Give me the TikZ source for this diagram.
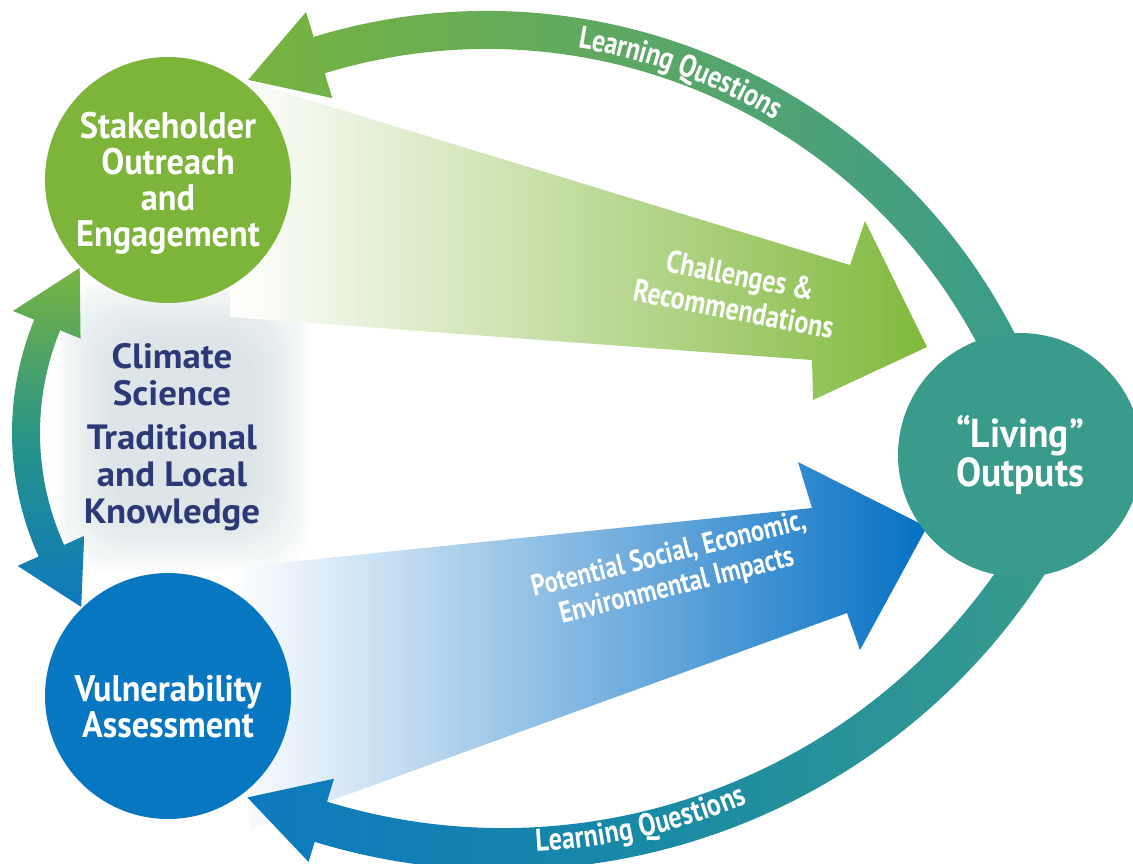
\documentclass[tikz,border=0pt]{standalone}
\usepackage{fontspec}
\setmainfont{PT Sans}
\newfontfamily\hubfamily{PT Sans}[FakeStretch=0.93]
\newfontfamily\narrowfamily{PT Sans}[FakeStretch=0.82]
\newfontfamily\widefamily{PT Sans}[FakeStretch=1.05]
\usetikzlibrary{decorations.text}
\definecolor{leafgreen}{RGB}{125,180,58}
\definecolor{seateal}{RGB}{57,155,139}
\definecolor{oceanblue}{RGB}{8,119,193}
\definecolor{inknavy}{RGB}{43,58,118}
\definecolor{fogray}{RGB}{196,211,215}
\definecolor{wedgegreen}{RGB}{128,185,60}
\definecolor{wedgeblue}{RGB}{5,112,196}
\definecolor{arcgreen}{RGB}{120,180,64}
\definecolor{arcmid}{RGB}{92,167,100}
\definecolor{arcblue}{RGB}{12,121,190}
\definecolor{arcbluemid}{RGB}{25,138,165}
\definecolor{arcleftmid}{RGB}{40,148,135}
\tikzset{
  hub/.style={circle, minimum size=4.92cm, inner sep=0pt},
  hubtext/.style={align=center, text=white,
    font=\hubfamily\bfseries\fontsize{21}{20.5}\selectfont},
  knowtext/.style={align=center, text=inknavy,
    font=\widefamily\bfseries\fontsize{20}{21}\selectfont},
  flowlabel/.style={align=center, text=white,
    font=\narrowfamily\bfseries\fontsize{18}{19.5}\selectfont},
  looplabel/.style={decorate, decoration={text along path, text color=white,
    text align=center, raise=-6pt,
    text={|\narrowfamily\bfseries\fontsize{18}{18}\selectfont|Learning Questions}}}
}
\begin{document}
\begin{tikzpicture}[x=0.02cm, y=-0.02cm]
  \useasboundingbox (0,0) rectangle (1133,863);
  \coordinate (topc) at (487,604);
  \coordinate (botc) at (503,226);
  \coordinate (leftc) at (312,433);
  % soft panel behind the knowledge text
  \foreach \i in {0,...,11}
    \fill[fogray, opacity=0.07, rounded corners=25] (55+5*\i,280+5*\i) rectangle (310-5*\i,570-5*\i);
  % wide arrows towards the outputs
  \shade[left color=white, right color=wedgegreen]
    (230,76) -- (850,265) -- (865,221) -- (927,347) -- (813,400) -- (812,360) -- (230,317) -- cycle;
  \shade[left color=white, right color=wedgeblue]
    (230,568) -- (812,508) -- (798,462) -- (927,527) -- (860,650) -- (847,613) -- (250,830) -- cycle;
  % double arrow on the left
  \shade[top color=arcgreen, bottom color=arcblue, middle color=arcleftmid]
    ([shift={(leftc)}]202.2:300) -- ([shift={(leftc)}]202.2:323) -- ([shift={(leftc)}]215.4:285)
    -- ([shift={(leftc)}]202.2:250) -- ([shift={(leftc)}]202.2:272)
    arc[start angle=202.2, end angle=155.7, radius=272]
    -- ([shift={(leftc)}]155.7:250) -- ([shift={(leftc)}]143:289) -- ([shift={(leftc)}]155.7:323)
    -- ([shift={(leftc)}]155.7:300)
    arc[start angle=155.7, end angle=202.2, radius=300] -- cycle;
  % loop back at the top
  \shade[left color=arcgreen, right color=seateal, middle color=arcmid]
    ([shift={(topc)}]-25:593) arc[start angle=-25, end angle=-107, radius=593]
    -- ([shift={(topc)}]-107:619) -- ([shift={(topc)}]-114.5:576) -- ([shift={(topc)}]-107:529)
    -- ([shift={(topc)}]-107:555) arc[start angle=-107, end angle=-25, radius=555] -- cycle;
  % loop back at the bottom
  \shade[left color=arcblue, right color=seateal, middle color=arcbluemid]
    ([shift={(botc)}]30:644) arc[start angle=30, end angle=107, radius=644]
    -- ([shift={(botc)}]107:665) -- ([shift={(botc)}]114.1:626) -- ([shift={(botc)}]107:578)
    -- ([shift={(botc)}]107:602) arc[start angle=107, end angle=30, radius=602] -- cycle;
  % the three circles
  \node[hub, fill=leafgreen] (stake) at (168,180) {};
  \node[hub, fill=oceanblue] (vuln) at (168,696) {};
  \node[hub, fill=seateal, minimum size=4.88cm] (living) at (1020,455) {};
  \node[hubtext] (staketext) at ([yshift=-2pt]stake.center) {Stakeholder\\Outreach\\and\\Engagement};
  \node[hubtext] (vulntext) at ([yshift=-6pt]vuln.center) {Vulnerability\\Assessment};
  \node[hubtext, font=\hubfamily\bfseries\fontsize{23}{19.5}\selectfont] (livingtext) at (living.center) {“Living”\\Outputs};
  % middle text
  \node[knowtext] (climate) at (172,375) {Climate\\Science};
  \node[knowtext] (knowledge) at (172,478) {Traditional\\and Local\\Knowledge};
  % arrow labels
  \node[flowlabel, rotate=-11] (challenges) at (737,292) {Challenges \&\\Recommendations};
  \node[flowlabel, rotate=14, font=\narrowfamily\bfseries\fontsize{17}{18.5}\selectfont] (impacts) at (673,571) {Potential Social, Economic,\\Environmental Impacts};
  \path[looplabel] ([shift={(topc)}]-85:574) arc[start angle=-85, end angle=-55, radius=574];
  \path[looplabel] ([shift={(botc)}]93:616) arc[start angle=93, end angle=61, radius=616];
\end{tikzpicture}
\end{document}
